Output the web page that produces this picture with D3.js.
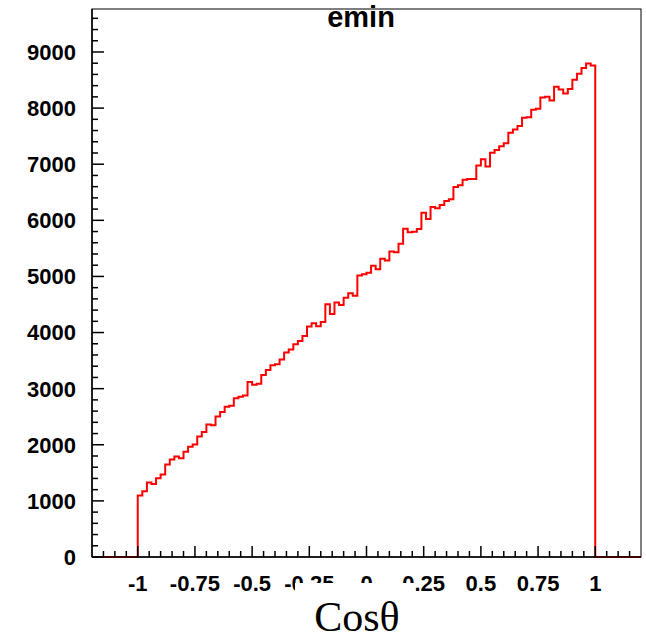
<!DOCTYPE html>
<html>
<head>
<meta charset="utf-8">
<script src="https://cdn.jsdelivr.net/npm/d3@7"></script>
<style>
  body { margin: 0; background: #fff; }
  svg { display: block; }
</style>
</head>
<body>
<svg id="hist-svg" width="646" height="641"></svg>
<script>
// histogram "emin", 100 bins over [-1, 1], axis from -1.2 to 1.2
const titleText = "emin";
const xTitle = "Cosθ";
const binLow = -1;
const binHigh = 1;
const counts = [
  1095, 1172, 1327, 1303, 1404, 1470, 1648, 1737, 1791, 1761,
  1875, 1964, 2005, 2148, 2226, 2362, 2350, 2505, 2582, 2678,
  2695, 2827, 2857, 2880, 3118, 3071, 3089, 3243, 3332, 3416,
  3434, 3518, 3643, 3696, 3791, 3850, 3939, 4107, 4166, 4112,
  4187, 4505, 4332, 4536, 4493, 4618, 4702, 4654, 5018, 5041,
  5064, 5189, 5130, 5314, 5286, 5446, 5429, 5582, 5850, 5786,
  5796, 5845, 6136, 6023, 6238, 6214, 6273, 6345, 6375, 6595,
  6625, 6725, 6738, 6738, 6975, 7089, 6957, 7202, 7255, 7321,
  7375, 7559, 7618, 7679, 7827, 7839, 7970, 7988, 8189, 8202,
  8136, 8380, 8332, 8261, 8339, 8505, 8613, 8714, 8796, 8761
];
const xMajorTicks = [-1, -0.75, -0.5, -0.25, 0, 0.25, 0.5, 0.75, 1];
const xTickLabels = ["-1", "-0.75", "-0.5", "-0.25", "0", "0.25", "0.5", "0.75", "1"];
const xMinorTicks = [-1.15, -1.1, -1.05, -0.95, -0.9, -0.85, -0.8, -0.7, -0.65, -0.6, -0.55,
  -0.45, -0.4, -0.35, -0.3, -0.2, -0.15, -0.1, -0.05, 0.05, 0.1, 0.15, 0.2,
  0.3, 0.35, 0.4, 0.45, 0.55, 0.6, 0.65, 0.7, 0.8, 0.85, 0.9, 0.95, 1.05, 1.1, 1.15];
const yMajorTicks = [0, 1000, 2000, 3000, 4000, 5000, 6000, 7000, 8000, 9000];
const yMinorStep = 200;

// frame
const frame = { left: 92, right: 641, top: 9, bottom: 557 };
const labelFont = "'Liberation Sans', Arial, Helvetica, sans-serif";

const svg = d3.select("#hist-svg");

const x = d3.scaleLinear()
  .domain([-1.2, 1.2])
  .range([frame.left, frame.right]);

const y = d3.scaleLinear()
  .domain([0, 9766])
  .range([frame.bottom, frame.top]);

// frame box
svg.append("rect")
  .attr("x", frame.left)
  .attr("y", frame.top)
  .attr("width", frame.right - frame.left)
  .attr("height", frame.bottom - frame.top)
  .attr("fill", "none")
  .attr("stroke", "#000")
  .attr("stroke-width", 1);

// histogram outline (zero outside [-1, 1])
const binWidth = (binHigh - binLow) / counts.length;
const pts = [[x(-1.2), y(0)], [x(binLow), y(0)]];
counts.forEach((c, i) => {
  const lo = binLow + i * binWidth;
  pts.push([x(lo), y(c)]);
  pts.push([x(lo + binWidth), y(c)]);
});
pts.push([x(binHigh), y(0)]);
pts.push([x(1.2), y(0)]);

svg.append("path")
  .datum(pts)
  .attr("fill", "none")
  .attr("stroke", "#ff0000")
  .attr("stroke-width", 2)
  .attr("stroke-linejoin", "miter")
  .attr("d", d3.line());

// x axis ticks (pointing up, inside)
const xAxisG = svg.append("g");
xAxisG.append("line")
  .attr("x1", frame.left).attr("x2", frame.right)
  .attr("y1", frame.bottom).attr("y2", frame.bottom)
  .attr("stroke", "#000").attr("stroke-width", 1.5);
xAxisG.selectAll(".major")
  .data(xMajorTicks)
  .join("line")
  .attr("x1", d => x(d)).attr("x2", d => x(d))
  .attr("y1", frame.bottom).attr("y2", frame.bottom - 11)
  .attr("stroke", "#000").attr("stroke-width", 1.5);
xAxisG.selectAll(".minor")
  .data(xMinorTicks)
  .join("line")
  .attr("x1", d => x(d)).attr("x2", d => x(d))
  .attr("y1", frame.bottom).attr("y2", frame.bottom - 6)
  .attr("stroke", "#000").attr("stroke-width", 1.5);

xAxisG.selectAll("text")
  .data(xMajorTicks)
  .join("text")
  .attr("x", d => x(d))
  .attr("y", 591)
  .attr("text-anchor", "middle")
  .attr("font-family", labelFont)
  .attr("font-weight", "bold")
  .attr("font-size", 22)
  .text((d, i) => xTickLabels[i]);

// y axis ticks (pointing right, inside)
const yAxisG = svg.append("g");
yAxisG.append("line")
  .attr("x1", frame.left).attr("x2", frame.left)
  .attr("y1", frame.top).attr("y2", frame.bottom)
  .attr("stroke", "#000").attr("stroke-width", 1.5);
yAxisG.selectAll(".major")
  .data(yMajorTicks)
  .join("line")
  .attr("x1", frame.left).attr("x2", frame.left + 12)
  .attr("y1", d => y(d)).attr("y2", d => y(d))
  .attr("stroke", "#000").attr("stroke-width", 1.5);
yAxisG.selectAll(".minor")
  .data(d3.range(yMinorStep, y.domain()[1], yMinorStep).filter(v => v % 1000 !== 0))
  .join("line")
  .attr("x1", frame.left).attr("x2", frame.left + 6)
  .attr("y1", d => y(d)).attr("y2", d => y(d))
  .attr("stroke", "#000").attr("stroke-width", 1.5);

yAxisG.selectAll("text")
  .data(yMajorTicks)
  .join("text")
  .attr("x", 76)
  .attr("y", d => y(d))
  .attr("dy", "0.36em")
  .attr("text-anchor", "end")
  .attr("font-family", labelFont)
  .attr("font-weight", "bold")
  .attr("font-size", 22)
  .text(d => d);

// title
svg.append("text")
  .attr("x", 361)
  .attr("y", 27)
  .attr("text-anchor", "middle")
  .attr("font-family", labelFont)
  .attr("font-weight", "bold")
  .attr("font-size", 29)
  .text(titleText);

// x title sits on a white box that hides part of the tick labels
svg.append("rect")
  .attr("x", 295)
  .attr("y", 583)
  .attr("width", 119)
  .attr("height", 58)
  .attr("fill", "#fff");

svg.append("text")
  .attr("x", 357)
  .attr("y", 631)
  .attr("text-anchor", "middle")
  .attr("font-family", "'Liberation Serif', 'Times New Roman', serif")
  .attr("font-size", 42)
  .text(xTitle);
</script>
</body>
</html>
